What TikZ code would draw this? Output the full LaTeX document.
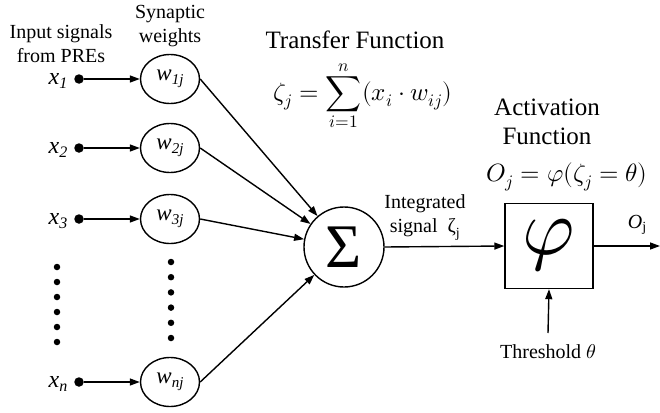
\documentclass[tikz,border=0pt]{standalone}
\usepackage{fontspec}
\usepackage{unicode-math}
\setmainfont{Liberation Serif}
\setmathfont{Latin Modern Math}
\usetikzlibrary{arrows.meta,shapes.geometric}
\newcommand{\xlab}[1]{{\fontsize{24}{24}\selectfont\itshape x\raisebox{-4pt}{\fontsize{16}{16}\selectfont #1}}}
\newcommand{\wlab}[1]{{\fontsize{23}{23}\selectfont\itshape w\raisebox{-4pt}{\fontsize{15}{15}\selectfont #1}}}
\begin{document}
\begin{tikzpicture}[x=1pt,y=-1pt, line width=1.4pt,
  arr/.style={-{Triangle[length=10pt,width=7pt]}},
  wnode/.style={draw, ellipse, minimum width=59pt, minimum height=49pt, inner sep=0pt},
  inp/.style={circle, fill, inner sep=0pt, minimum size=9.5pt},
  ddot/.style={circle, fill, inner sep=0pt, minimum size=6.5pt},
  lbl/.style={font=\fontsize{20}{24}\selectfont, align=center, inner sep=0pt},
  big/.style={font=\fontsize{25}{29}\selectfont, align=center, inner sep=0pt}]
\useasboundingbox (0,0) rectangle (660,412);

% labels top-left
\node[lbl] (inlab) at (61,44) {Input signals\\from PREs};
\node[lbl] (synlab) at (170,26) {Synaptic\\weights};

% input rows
\foreach \n/\y/\s in {1/79/1,2/148/2,3/219/3,4/382/n}{
  \node[inp] (d\n) at (79,\y) {};
  \node[anchor=base east, inner sep=0pt] (x\n) at (68,\y+5) {\xlab{\s}};
  \node[wnode] (w\n) at (170,\y) {\wlab{\s j}};
  \draw[arr] (d\n) -- (w\n);
}

% ellipsis dots
\foreach \k in {0,...,5}{
  \node[ddot] (la\k) at (57,267+15*\k) {};
  \node[ddot] (ra\k) at (171,262+15.2*\k) {};
}

% summation node
\node[draw, circle, minimum size=80pt, inner sep=0pt] (sum) at (344,247)
  {\fontsize{62}{62}\selectfont Σ};
\foreach \n in {1,2,3,4}{
  \draw[arr] (w\n.east) -- (sum);
}

% activation box
\node[draw, rectangle, minimum width=88pt, minimum height=85pt, inner sep=0pt] (act) at (549,246)
  {\scalebox{3.2}{\fontsize{25}{25}\selectfont$\boldsymbol{\varphi}$}};
\draw[arr] (sum.east) -- (act.west);
\coordinate (out) at (660,246);
\draw[arr] (act.east) -- (out);
\coordinate (thr) at (548,333);
\draw[arr] (thr) -- (act.south);

% texts
\node[lbl] (intlab) at (425,218) {Integrated\\signal\ \ ζ\textsubscript{j}};
\node[lbl] (olab) at (637,225) {\textit{O}\raisebox{-3pt}{\fontsize{14}{14}\selectfont j}};
\node[lbl] (thrlab) at (548,352) {Threshold $\theta$};

\node[big] (tflab) at (355,40) {Transfer Function};
\node[big] (tfeq) at (363,96) {$\displaystyle \zeta_j = \sum_{i=1}^{n}(x_i\cdot w_{ij})$};
\node[big] (aflab) at (547,122) {Activation\\Function};
\node[big] (afeq) at (567,177) {$O_j = \varphi(\zeta_j = \theta)$};
\end{tikzpicture}
\end{document}
